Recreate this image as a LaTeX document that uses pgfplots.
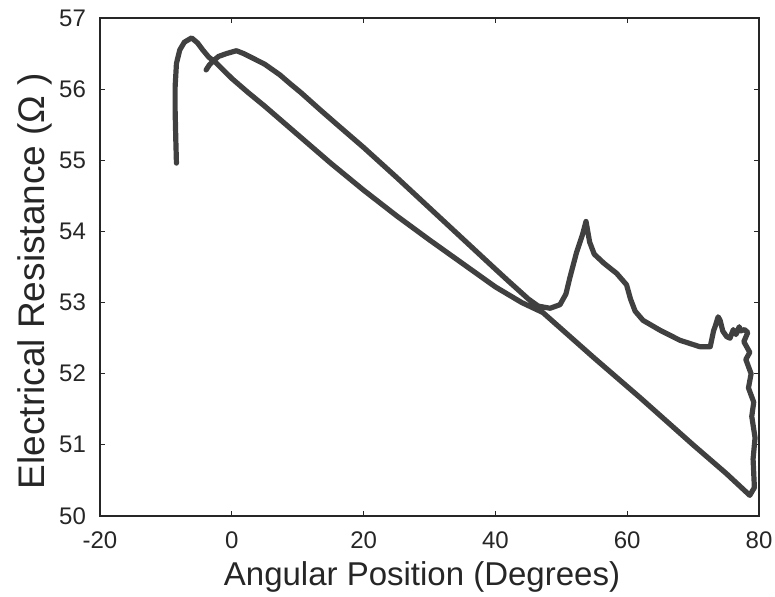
\documentclass[border=0pt]{standalone}
\usepackage{fontspec}
\setmainfont{Liberation Sans}
\usepackage{pgfplots}
\pgfplotsset{compat=1.18}
\begin{document}
\begin{tikzpicture}
\begin{axis}[
  at={(0pt,0pt)}, anchor=south west,
  scale only axis,
  width=329.5pt, height=249pt,
  xmin=-20, xmax=80, ymin=50, ymax=57,
  xtick={-20,0,20,40,60,80}, ytick={50,51,52,53,54,55,56,57},
  tick align=inside, tick pos=both,
  major tick length=2.5pt,
  axis line style={black!85, line width=0.7pt},
  every tick/.style={black!85, line width=0.6pt},
  ticklabel style={font=\fontsize{12}{14}\selectfont, text=black!85},
  /pgf/number format/assume math mode=true,
  xticklabel style={yshift=-4.25pt},
  yticklabel style={xshift=-3.5pt},
  xlabel={Angular Position (Degrees)},
  ylabel={Electrical Resistance (Ω )},
  xlabel style={font=\fontsize{16.5}{20}\selectfont, text=black!85, at={(axis description cs:0.4886,-0.1225)}, anchor=center},
  ylabel style={font=\fontsize{18.5}{22}\selectfont, text=black!85, at={(axis description cs:-0.0986,0.472)}, anchor=center},
]
\addplot[black!75, line width=2.6pt, line join=round, line cap=round] coordinates {
(-8.4,54.96) (-8.5,55.3) (-8.6,55.7) (-8.6,56.03) (-8.4,56.36) (-7.9,56.55)
(-7.2,56.66) (-6.1,56.72) (-5.2,56.65) (-4.4,56.55) (-3.5,56.45) (-2.5,56.38)
(0,56.15) (2.5,55.95) (5,55.76) (10,55.36) (15,54.96) (20,54.58) (25,54.22)
(30,53.88) (35,53.55) (40,53.22) (44,53.0) (47.2,52.86)
(55,52.22) (62,51.66) (70,51.0) (75,50.6) (78.6,50.29)
(79.3,50.4) (79.1,50.8) (79.4,51.1) (78.9,51.4) (79.2,51.6) (78.4,51.8)
(78.8,52.0) (78.0,52.2) (78.6,52.3) (77.7,52.45) (78.3,52.58) (77.8,52.62)
(77.2,52.6) (77.0,52.66) (76.5,52.55) (76.1,52.62) (75.6,52.5) (75.1,52.52)
(74.5,52.6) (74.1,52.75) (73.8,52.8) (73.4,52.68) (73.1,52.6) (72.6,52.38)
(71.0,52.38) (68.0,52.47) (65.0,52.61) (62.4,52.75) (61.2,52.88) (60.5,53.05)
(59.9,53.25) (58.4,53.41) (56.5,53.55) (55.0,53.68) (54.3,53.85) (53.75,54.14)
(53.2,53.95) (52.3,53.7) (51.3,53.35) (50.7,53.12) (49.8,52.97) (48.3,52.92)
(46.5,52.95) (45.0,53.05) (42,53.3) (40,53.47) (35,53.9) (30,54.33) (25,54.76)
(20,55.18) (16,55.5) (13.4,55.71) (10.5,55.95) (8.8,56.08) (7.3,56.2) (5,56.35)
(3.3,56.43) (1.8,56.5) (0.7,56.54) (-0.8,56.5) (-2.0,56.46) (-2.8,56.4)
(-3.4,56.34) (-3.9,56.27)
};
\end{axis}
\pgfresetboundingbox
\useasboundingbox (-50pt,-40.5pt) rectangle (337.5pt,258pt);
\end{tikzpicture}
\end{document}
